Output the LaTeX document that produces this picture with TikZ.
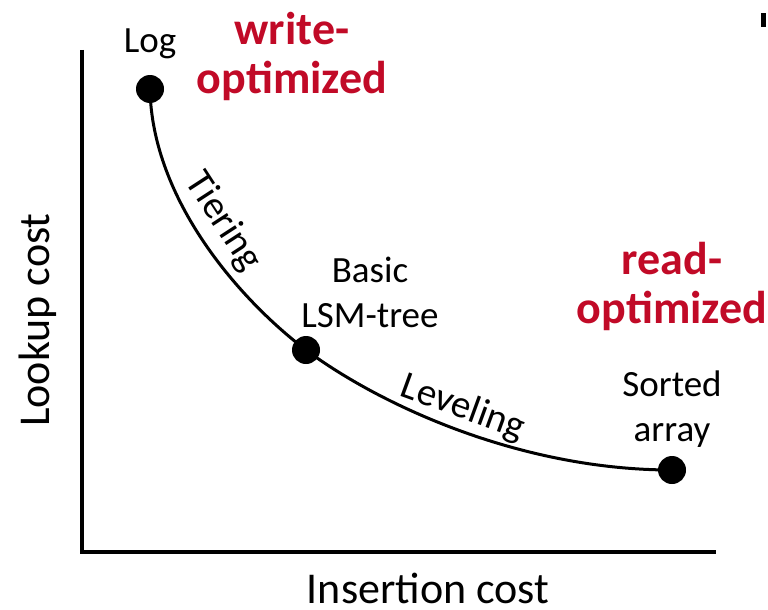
\documentclass[tikz,border=0pt]{standalone}
\usepackage{fontspec}
\setmainfont{Carlito}
\definecolor{optred}{RGB}{193,10,39}
\begin{document}
\begin{tikzpicture}[
		x=1pt, y=-1pt,
		dot/.style={circle,fill=black,inner sep=0pt,minimum size=28pt},
		pointtext/.style={align=center,inner sep=0pt,font=\fontsize{37}{45}\selectfont},
		axislabel/.style={inner sep=0pt,font=\fontsize{44}{52}\selectfont},
		optlabel/.style={align=center,inner sep=0pt,text=optred,font=\bfseries\fontsize{46}{49}\selectfont}
	]
	\useasboundingbox (0,0) rectangle (768,610);

	% axes
	\coordinate (ytop) at (82,50);
	\coordinate (origin) at (82,552);
	\coordinate (xend) at (716,552);
	\draw[line width=4.5pt] (ytop) -- (origin) -- (xend);

	% trade-off curve
	\node[dot] (log) at (150,89) {};
	\node[dot] (basic) at (306,350) {};
	\node[dot] (sorted) at (672,470) {};
	\draw[line width=3pt] (log.center) .. controls (152,200) and (240,300) .. (basic.center)
		.. controls (380,405) and (520,470) .. (sorted.center);

	\node[pointtext] (logtext) at (150,44) {Log};
	\node[pointtext] (basictext) at (370,292) {Basic\\LSM-tree};
	\node[pointtext] (sortedtext) at (672,409) {Sorted\\array};
	\node[pointtext,rotate=-57,font=\fontsize{39}{45}\selectfont] (tiering) at (223,222) {Tiering};
	\node[pointtext,rotate=-20,font=\fontsize{39}{45}\selectfont] (leveling) at (463,408) {Leveling};

	\node[optlabel] (writeopt) at (292,56) {write-\\optimized};
	\node[optlabel] (readopt) at (672,286) {read-\\optimized};

	\node[axislabel,rotate=90] (ylabel) at (38,320) {Lookup cost};
	\node[axislabel] (xlabel) at (428,588) {Insertion cost};

	\fill (761,13) rectangle (766,27);
\end{tikzpicture}
\end{document}
